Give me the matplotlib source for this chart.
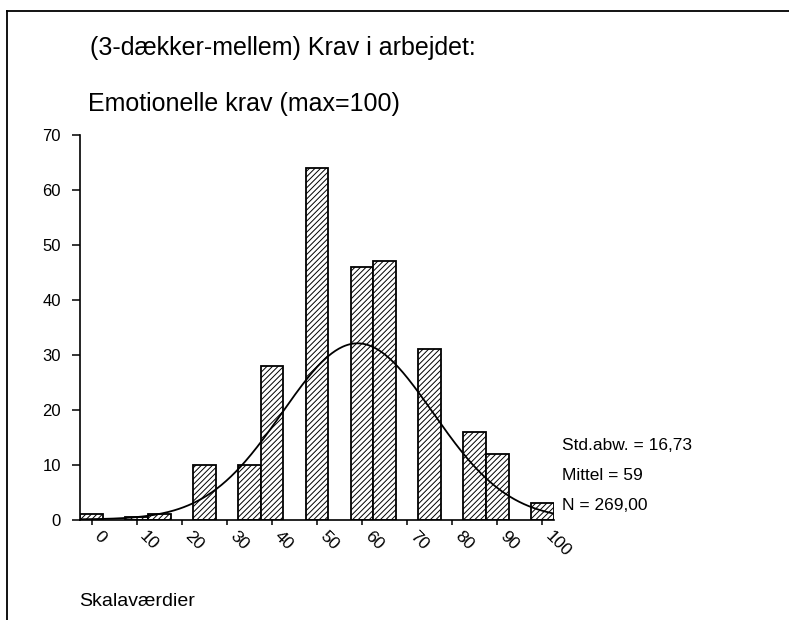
import numpy as np
import matplotlib
matplotlib.use("Agg")
import matplotlib.pyplot as plt
from matplotlib.lines import Line2D

plt.rcParams['font.family'] = ['Liberation Sans', 'DejaVu Sans']
plt.rcParams['hatch.linewidth'] = 0.7

# Data
bin_centers = [0, 10, 15, 25, 35, 40, 50, 60, 65, 75, 85, 90, 100]
counts = [1, 0.4, 1, 10, 10, 28, 64, 46, 47, 31, 16, 12, 3]
bin_width = 5
x_ticks = [0, 10, 20, 30, 40, 50, 60, 70, 80, 90, 100]
y_ticks = [0, 10, 20, 30, 40, 50, 60, 70]
std_dev = 16.73
mean = 59
n_total = 269
title_lines = ["(3-dækker-mellem) Krav i arbejdet:", "Emotionelle krav (max=100)"]
stats_text = ["Std.abw. = 16,73", "Mittel = 59", "N = 269,00"]
x_label = "Skalaværdier"

W, H = 789, 620
fig = plt.figure(figsize=(W / 100, H / 100), dpi=100)
ax = fig.add_axes([80.4 / W, 1 - 519.5 / H, (553.6 - 80.4) / W, (519.5 - 135) / H])

ax.bar(bin_centers, counts, width=bin_width, facecolor='white', edgecolor='black',
       linewidth=1.3, hatch='//////', zorder=2)

xs = np.linspace(-2.5, 102.5, 400)
ys = n_total * bin_width / (std_dev * np.sqrt(2 * np.pi)) * np.exp(-0.5 * ((xs - mean) / std_dev) ** 2)
ax.plot(xs, ys, color='black', linewidth=1.3, zorder=3)

ax.set_xlim(-2.5, 102.5)
ax.set_ylim(0, 70)
ax.set_xticks(x_ticks)
ax.set_xticklabels([str(v) for v in x_ticks], rotation=-45, ha='left', va='top',
                   fontsize=12.5)
ax.set_yticks(y_ticks)
ax.set_yticklabels([str(v) for v in y_ticks], fontsize=12)
ax.tick_params(axis='y', direction='out', length=6, width=1.1, pad=8)
ax.tick_params(axis='x', direction='out', length=3.5, width=1.1, pad=3)
for s in ['top', 'right']:
    ax.spines[s].set_visible(False)
for s in ['left', 'bottom']:
    ax.spines[s].set_linewidth(1.2)

# Titles
fig.text(90 / W, 1 - 48 / H, title_lines[0], fontsize=18, va='center', ha='left')
fig.text(88 / W, 1 - 104 / H, title_lines[1], fontsize=18, va='center', ha='left')

# Stats
for i, t in enumerate(stats_text):
    fig.text(562 / W, 1 - (446 + 30 * i) / H, t, fontsize=12.5, va='center', ha='left')

fig.text(79 / W, 1 - 601 / H, x_label, fontsize=14, va='center', ha='left')

# Frame lines (top and left)
fig.add_artist(Line2D([7 / W, 1], [1 - 11 / H, 1 - 11 / H], transform=fig.transFigure,
                      color='black', linewidth=1.3))
fig.add_artist(Line2D([7 / W, 7 / W], [0, 1 - 11 / H], transform=fig.transFigure,
                      color='black', linewidth=1.3))

fig.savefig('out.png', dpi=100)
